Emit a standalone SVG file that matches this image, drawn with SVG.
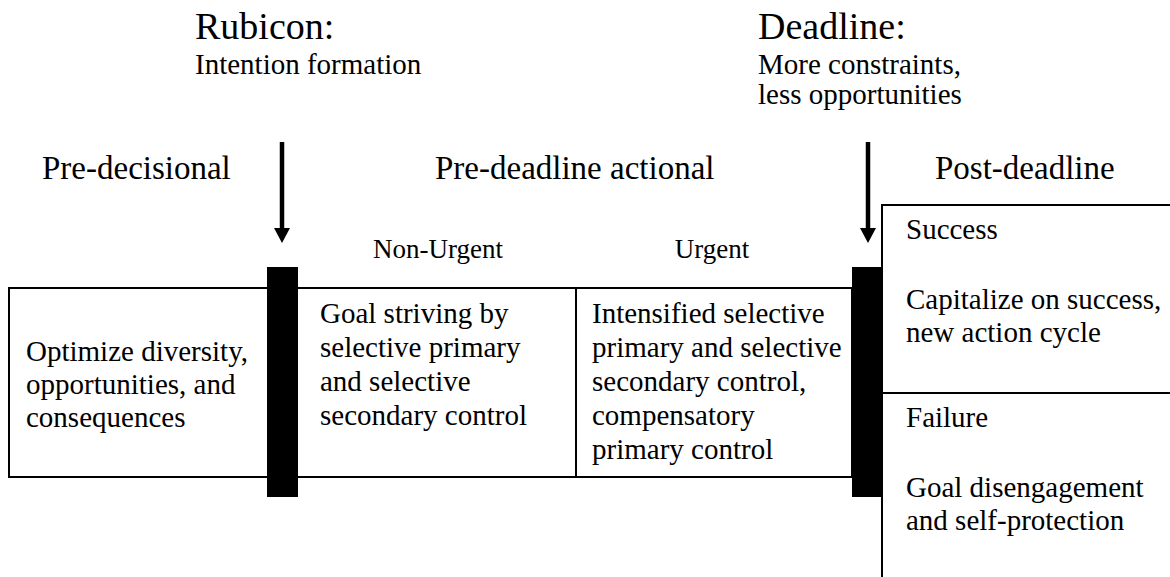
<svg xmlns="http://www.w3.org/2000/svg" width="1170" height="577" viewBox="0 0 1170 577">
  <style>
    text { font-family: "Liberation Serif", "Times New Roman", serif; fill: #000; }
    .title { font-size: 38px; }
    .sub { font-size: 29px; }
    .phase { font-size: 33px; }
    .tag { font-size: 27px; text-anchor: middle; }
    .body { font-size: 29px; }
    .frame { fill: none; stroke: #000; stroke-width: 2; }
    .bar { fill: #000; }
    .shaft { stroke: #000; stroke-width: 4.5; fill: none; }
    .head { fill: #000; }
  </style>

  <!-- header annotations above the two transition points -->
  <g id="rubicon">
    <text class="title" x="195" y="39">Rubicon:</text>
    <text class="sub" x="195" y="74">Intention formation</text>
  </g>
  <g id="deadline">
    <text class="title" x="758" y="39">Deadline:</text>
    <text class="sub" x="758" y="74">More constraints,</text>
    <text class="sub" x="758" y="104">less opportunities</text>
  </g>

  <!-- phase headings -->
  <g id="phase-predecisional">
    <text class="phase" x="42" y="179">Pre-decisional</text>
  </g>
  <g id="phase-actional">
    <text class="phase" x="435" y="179">Pre-deadline actional</text>
    <text class="tag" x="438" y="258">Non-Urgent</text>
    <text class="tag" x="712" y="258">Urgent</text>
  </g>
  <g id="phase-postdeadline">
    <text class="phase" x="935" y="179">Post-deadline</text>
  </g>

  <!-- downward arrows onto the transition bars -->
  <g id="connectors">
    <line class="shaft" x1="282" y1="142" x2="282" y2="229"/>
    <polygon class="head" points="274,228 290,228 282,243"/>
    <line class="shaft" x1="868" y1="142" x2="868" y2="229"/>
    <polygon class="head" points="860,228 876,228 868,243"/>
  </g>

  <!-- main timeline box -->
  <g id="timeline">
    <rect class="frame" x="9" y="288" width="843" height="189"/>
    <line class="frame" x1="576" y1="288" x2="576" y2="477"/>
  </g>

  <g id="predecisional-box">
    <text class="body" x="26" y="361">Optimize diversity,</text>
    <text class="body" x="26" y="394">opportunities, and</text>
    <text class="body" x="26" y="427">consequences</text>
  </g>

  <g id="nonurgent-box">
    <text class="body" x="320" y="323">Goal striving by</text>
    <text class="body" x="320" y="357">selective primary</text>
    <text class="body" x="320" y="391">and selective</text>
    <text class="body" x="320" y="425">secondary control</text>
  </g>

  <g id="urgent-box">
    <text class="body" x="592" y="323">Intensified selective</text>
    <text class="body" x="592" y="357">primary and selective</text>
    <text class="body" x="592" y="391">secondary control,</text>
    <text class="body" x="592" y="425">compensatory</text>
    <text class="body" x="592" y="459">primary control</text>
  </g>

  <!-- transition bars -->
  <g id="rubicon-bar">
    <rect class="bar" x="267" y="267" width="31" height="230"/>
  </g>
  <g id="deadline-bar">
    <rect class="bar" x="852" y="267" width="31" height="230"/>
  </g>

  <!-- post-deadline outcomes -->
  <g id="post-deadline-box">
    <path class="frame" d="M882,577 V205 H1171"/>
    <line class="frame" x1="882" y1="393" x2="1171" y2="393"/>
  </g>
  <g id="success">
    <text class="body" x="906" y="239">Success</text>
    <text class="body" x="906" y="309">Capitalize on success,</text>
    <text class="body" x="906" y="342">new action cycle</text>
  </g>
  <g id="failure">
    <text class="body" x="906" y="427">Failure</text>
    <text class="body" x="906" y="497">Goal disengagement</text>
    <text class="body" x="906" y="530">and self-protection</text>
  </g>
</svg>
